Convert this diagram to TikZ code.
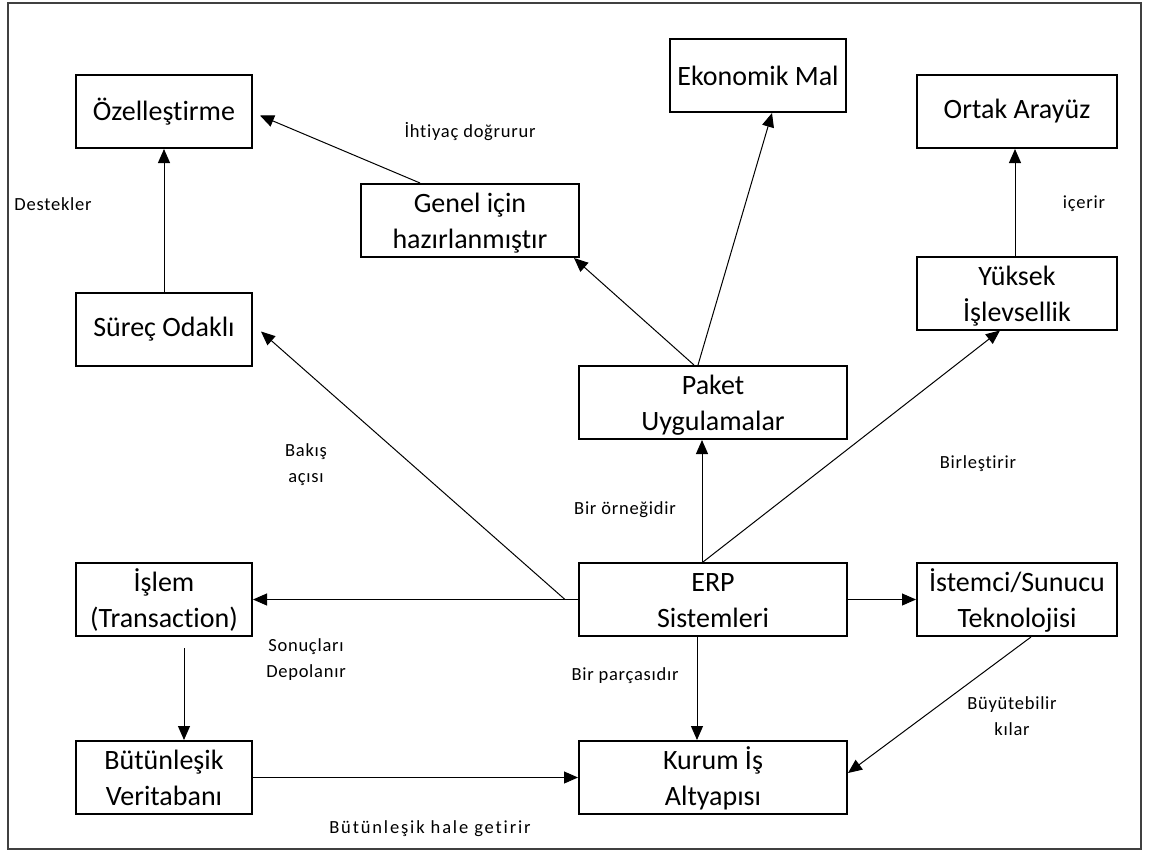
\documentclass[tikz,border=0pt]{standalone}
\usepackage{fontspec}
\setmainfont{Carlito}[Ligatures=NoCommon]
\newfontfamily\lblfont{Carlito}[LetterSpace=4,Ligatures=NoCommon]
\newfontfamily\widelblfont{Carlito}[LetterSpace=10,Ligatures=NoCommon]
\usetikzlibrary{arrows.meta}

% two centred lines, set slightly low in their box
\newcommand{\twolines}[2]{%
  \raisebox{-3pt}[\height][\depth]{\begin{tabular}{@{}c@{}}#1\\#2\end{tabular}}}

\begin{document}
\begin{tikzpicture}[x=1pt,y=-1pt,
  box/.style={draw, line width=2pt, inner sep=0pt, minimum height=73pt,
    font=\fontsize{28}{36}\selectfont},
  lbl/.style={align=center, inner sep=0pt, font=\lblfont\fontsize{18.5}{26}\selectfont},
  link/.style={line width=1pt, -{Triangle[length=14pt,width=12pt]}}]

% canvas and outer frame
\fill[white] (0,0) rectangle (1154,852);
\useasboundingbox (0,0) rectangle (1154,852);
\draw[black!75, line width=1.5pt] (8,3) rectangle (1141,849);

% concept boxes
\node[box, minimum width=176pt] (ozel)    at (164,111.5)  {Özelleştirme};
\node[box, minimum width=176pt] (surec)   at (164,329.5)  {Süreç Odaklı};
\node[box, minimum width=176pt] (islem)   at (164,599.5)  {\twolines{İşlem}{(Transaction)}};
\node[box, minimum width=176pt] (butun)   at (164,777.5)  {\twolines{Bütünleşik}{Veritabanı}};
\node[box, minimum width=218pt] (genel)   at (470,220.5)  {\twolines{Genel için}{hazırlanmıştır}};
\node[box, minimum width=176pt] (ekon)    at (758,75.5)   {Ekonomik Mal};
\node[box, minimum width=200pt] (ortak)   at (1017,111.5) {Ortak Arayüz};
\node[box, minimum width=200pt] (yuksek)  at (1017,293)   {\twolines{Yüksek}{İşlevsellik}};
\node[box, minimum width=200pt] (istemci) at (1017,599.5) {\twolines{İstemci/Sunucu}{Teknolojisi}};
\node[box, minimum width=268pt] (paket)   at (713,402.5)  {\twolines{Paket}{Uygulamalar}};
\node[box, minimum width=268pt] (erp)     at (713,599.5)  {\twolines{ERP}{Sistemleri}};
\node[box, minimum width=268pt] (kurum)   at (713,777.5)  {\twolines{Kurum İş}{Altyapısı}};

% relations
\draw[link] ([xshift=-50pt]genel.north) -- ([xshift=7pt,yshift=-4pt]ozel.east);
\draw[link] (surec.north) -- (ozel.south);
\draw[link] ([xshift=-19pt]paket.north) -- ([xshift=-6pt]genel.south east);
\draw[link] ([xshift=-15pt]paket.north) -- ([xshift=14pt]ekon.south);
\draw[link] ([xshift=-11pt]erp.north) -- ([xshift=-11pt]paket.south);
\draw[link] ([xshift=-10pt]erp.north) -- ([xshift=-17pt]yuksek.south);
\draw[link] ([xshift=-2pt]yuksek.north) -- ([xshift=-2pt]ortak.south);
\coordinate (split) at ([xshift=-13pt]erp.west);
\draw[link] (split) -- ([xshift=8pt,yshift=-2pt]surec.east);
\draw[link] (erp.west) -- (islem.east);
\draw[link] (erp.east) -- (istemci.west);
\draw[link] ([xshift=20pt,yshift=-11pt]islem.south) -- ([xshift=20pt]butun.north);
\draw[link] (butun.east) -- (kurum.west);
\draw[link] ([xshift=-16pt]erp.south) -- ([xshift=-16pt]kurum.north);
\draw[link] ([xshift=14pt]istemci.south) -- ([yshift=4.5pt]kurum.east);

% relation labels
\node[lbl] (l1)  at (53,204)   {Destekler};
\node[lbl] (l2)  at (470,132)  {İhtiyaç doğrurur};
\node[lbl] (l3)  at (306,465)  {Bakış\\açısı};
\node[lbl] (l4)  at (625,510)  {Bir örneğidir};
\node[lbl] (l5)  at (978,464)  {Birleştirir};
\node[lbl] (l6)  at (1084,204) {içerir};
\node[lbl] (l7)  at (306,660)  {Sonuçları\\Depolanır};
\node[lbl] (l8)  at (625,676)  {Bir parçasıdır};
\node[lbl] (l9)  at (1012,716) {Büyütebilir\\kılar};
\node[lbl, font=\widelblfont\fontsize{18.5}{26}\selectfont] (l10) at (430,829) {Bütünleşik hale getirir};
\end{tikzpicture}
\end{document}
